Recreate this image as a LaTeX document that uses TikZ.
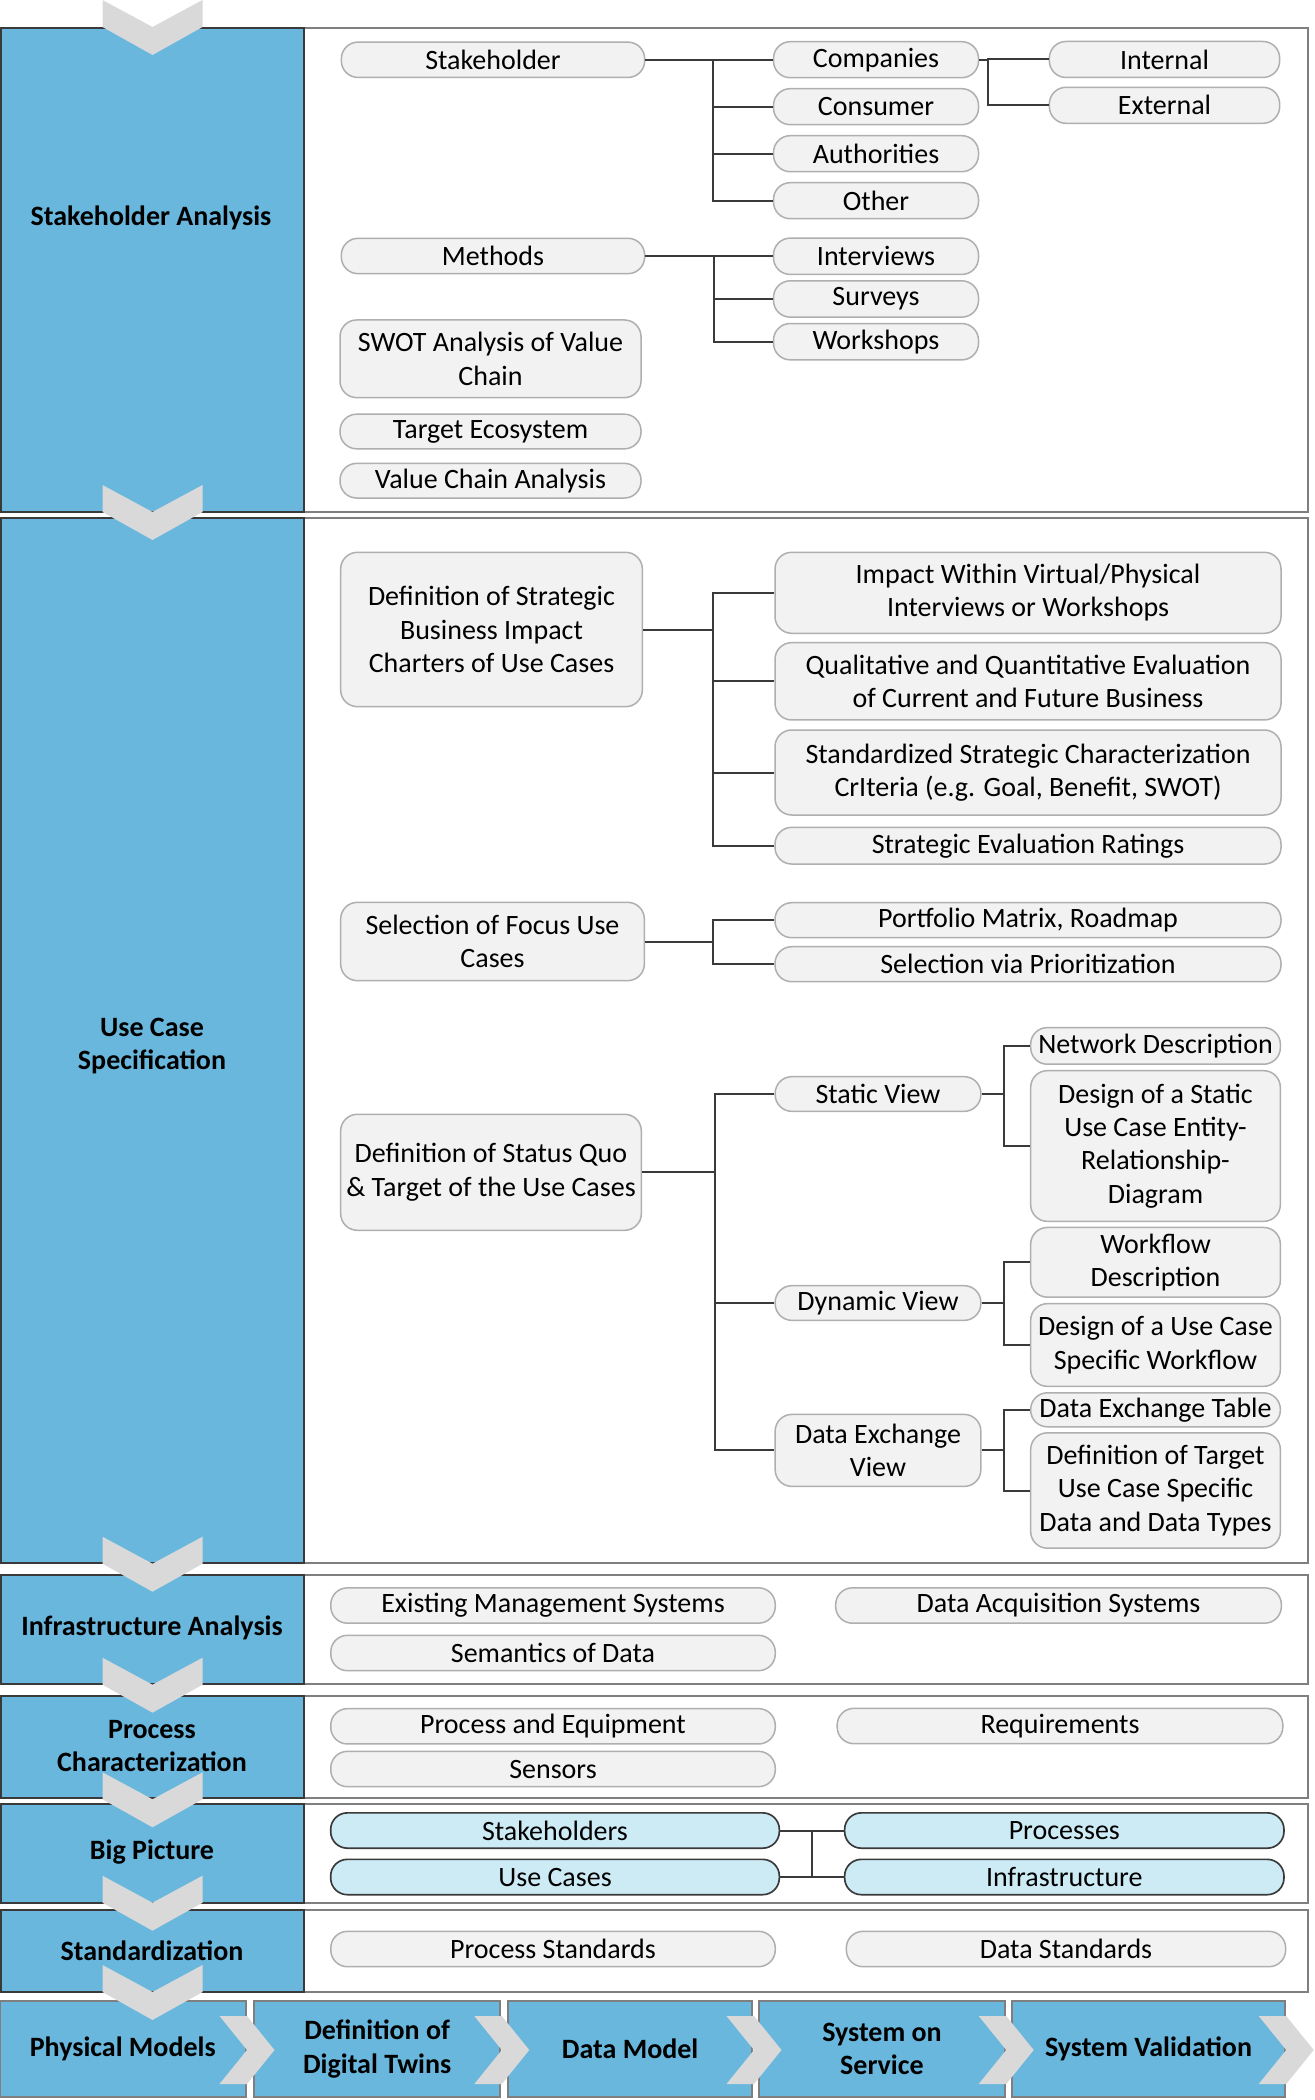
\documentclass[tikz,border=0pt]{standalone}
\usepackage{fontspec}
\setmainfont{Carlito}
\usetikzlibrary{calc}

\definecolor{panelblue}{HTML}{69B7DD}
\definecolor{pillfill}{HTML}{F2F2F2}
\definecolor{pillline}{HTML}{AFAFAF}
\definecolor{bigfill}{HTML}{CDEBF5}
\definecolor{darkline}{HTML}{3A3A3A}
\definecolor{bandline}{HTML}{7F7F7F}
\definecolor{chevgray}{HTML}{D9D9D9}

\begin{document}
\begin{tikzpicture}[x=0.3pt,y=-0.3pt,
    every node/.style={font=\fontsize{8.4pt}{10pt}\selectfont},
    pill/.style={draw=pillline,fill=pillfill,rounded corners=5pt,line width=0.45pt,
                 inner sep=0pt,align=center,minimum height=10.6pt},
    bigpill/.style={pill,draw=darkline,fill=bigfill,line width=0.5pt},
    phase/.style={font=\fontsize{8.4pt}{10pt}\selectfont\bfseries,align=center},
    stage/.style={phase,fill=panelblue,draw=bandline,line width=0.6pt,inner sep=0pt,
                  minimum height=28.9pt},
    band/.style={draw=bandline,fill=white,line width=0.6pt},
    panel/.style={fill=panelblue,draw=darkline,line width=0.5pt},
    conn/.style={draw=darkline,line width=0.6pt},
    chev/.style={fill=chevgray}]
  \useasboundingbox (0,0) rectangle (1314,2100);

  % bands with the blue phase panels
  \foreach \top/\bot in {28/511.7,518.3/1563.3,1575/1684.3,1696/1797.7,1804.3/1902.7,1910/1992.3}{
    \draw[band] (1,\top) rectangle (1307.5,\bot);
    \filldraw[panel] (1,\top) rectangle (304.3,\bot);
  }

  % bottom row of stages
  \node[stage,minimum width=73.65pt] (b1) at (122.75,2048.9) {Physical Models};
  \node[stage,minimum width=73.9pt]  (b2) at (377.15,2048.9) {Definition of\\Digital Twins};
  \node[stage,minimum width=73.4pt]  (b3) at (630.15,2048.9) {Data Model};
  \node[stage,minimum width=73.65pt] (b4) at (881.95,2048.9) {System on\\Service};
  \node[stage,minimum width=81.7pt]  (b5) at (1148.5,2048.9) {System Validation};

  % chevrons
  \foreach \t in {0,485,1536.7,1657.7,1772.3,1875.7,1965}
    \fill[chev] (102.5,\t) -- (152.5,\t+27) -- (202.5,\t) -- (202.5,\t+27)
      -- (152.5,\t+55) -- (102.5,\t+27) -- cycle;
  \foreach \r in {245.5,500.3,752.5,1004.7,1284.7}
    \fill[chev] (\r-26,2016) -- (\r+1.5,2050) -- (\r-26,2084) -- (\r+1.5,2084)
      -- (\r+29,2050) -- (\r+1.5,2016) -- cycle;

  % phase labels
  \node[phase] (sa)  at (151,218)    {Stakeholder Analysis};
  \node[phase] (ucs) at (152,1046)   {Use Case\\Specification};
  \node[phase] (ia)  at (152,1628.3) {Infrastructure Analysis};
  \node[phase] (pc)  at (152,1746)   {Process\\Characterization};
  \node[phase] (bp)  at (152,1851.7) {Big Picture};
  \node[phase] (sd)  at (152,1951)   {Standardization};

  % stakeholder analysis
  \node[pill,minimum width=91pt] (stk)  at (493,59.8) {Stakeholder};
  \node[pill,minimum width=91pt] (meth) at (493,256)  {Methods};
  \node[pill,minimum width=90.3pt,minimum height=23.3pt] (swot) at (490.5,358.8) {SWOT Analysis of Value\\Chain};
  \node[pill,minimum width=90.3pt,minimum height=10.4pt] (eco) at (490.5,431.5) {Target Ecosystem};
  \node[pill,minimum width=90.3pt,minimum height=10.4pt] (vca) at (490.5,480.7) {Value Chain Analysis};
  \node[pill,minimum width=61.5pt,minimum height=10.8pt] (comp) at (876,59.7)  {Companies};
  \node[pill,minimum width=61.5pt,minimum height=10.8pt] (cons) at (876,106.7) {Consumer};
  \node[pill,minimum width=61.5pt,minimum height=10.8pt] (auth) at (876,153.7) {Authorities};
  \node[pill,minimum width=61.5pt,minimum height=10.8pt] (oth)  at (876,200.7) {Other};
  \node[pill,minimum width=69.1pt,minimum height=10.8pt] (int)  at (1164.5,59.5)  {Internal};
  \node[pill,minimum width=69.1pt,minimum height=10.8pt] (ext)  at (1164.5,105.3) {External};
  \node[pill,minimum width=61.5pt,minimum height=10.9pt] (intv) at (876,256.3) {Interviews};
  \node[pill,minimum width=61.5pt,minimum height=10.9pt] (surv) at (876,299)   {Surveys};
  \node[pill,minimum width=61.5pt,minimum height=10.9pt] (work) at (876,341.7) {Workshops};

  \draw[conn] (stk.east) -- ++(67.5,0) coordinate (stkj);
  \foreach \n in {comp,cons,auth,oth} \draw[conn] (stkj) |- (\n.west);
  \draw[conn] (comp.east) -- ++(9,0) coordinate (compj);
  \foreach \n in {int,ext} \draw[conn] (compj) |- (\n.west);
  \draw[conn] (meth.east) -- ++(68.5,0) coordinate (methj);
  \foreach \n in {intv,surv,work} \draw[conn] (methj) |- (\n.west);

  % use case specification
  \node[pill,minimum width=90.5pt,minimum height=46.3pt] (dsb) at (491.5,629.5) {Definition of Strategic\\Business Impact\\Charters of Use Cases};
  \node[pill,minimum width=151.8pt,minimum height=24.3pt] (imp)  at (1028,592.8) {Impact Within Virtual/Physical\\Interviews or Workshops};
  \node[pill,minimum width=151.8pt,minimum height=23.2pt] (qual) at (1028,681.3) {Qualitative and Quantitative Evaluation\\of Current and Future Business};
  \node[pill,minimum width=151.8pt,minimum height=25.5pt] (std)  at (1028,772.5) {Standardized Strategic Characterization\\CrIteria (e.g. Goal, Benefit, SWOT)};
  \node[pill,minimum width=151.8pt,minimum height=11pt]   (ser)  at (1028,845.7) {Strategic Evaluation Ratings};
  \node[pill,minimum width=91.1pt,minimum height=23.5pt]  (sel)  at (492.5,941.5) {Selection of Focus Use\\Cases};
  \node[pill,minimum width=151.8pt,minimum height=10.5pt] (port) at (1028,920.2) {Portfolio Matrix, Roadmap};
  \node[pill,minimum width=151.8pt,minimum height=10.5pt] (svp)  at (1028,964.2) {Selection via Prioritization};
  \node[pill,minimum width=90.2pt,minimum height=34.8pt]  (dsq)  at (491,1172.3) {Definition of Status Quo\\\& Target of the Use Cases};
  \node[pill,minimum width=61.7pt,minimum height=10.4pt]  (stat) at (878,1094)   {Static View};
  \node[pill,minimum width=61.7pt,minimum height=10.4pt]  (dyn)  at (878,1303)   {Dynamic View};
  \node[pill,minimum width=61.7pt,minimum height=21.6pt]  (dex)  at (878,1450.4) {Data Exchange\\View};
  \node[pill,minimum width=74.9pt,minimum height=11pt]    (net)  at (1155.5,1045.9) {Network Description};
  \node[pill,minimum width=74.9pt,minimum height=45.2pt]  (dss)  at (1155.5,1146)   {Design of a Static\\Use Case Entity-\\Relationship-\\Diagram};
  \node[pill,minimum width=74.9pt,minimum height=20.9pt]  (wfd)  at (1155.5,1262.3) {Workflow\\Description};
  \node[pill,minimum width=74.9pt,minimum height=24.8pt]  (duw)  at (1155.5,1345)   {Design of a Use Case\\Specific Workflow};
  \node[pill,minimum width=74.9pt,minimum height=10.2pt]  (det)  at (1155.5,1409.8) {Data Exchange Table};
  \node[pill,minimum width=74.9pt,minimum height=34.6pt]  (dtt)  at (1155.5,1490.5) {Definition of Target\\Use Case Specific\\Data and Data Types};

  \draw[conn] (dsb.east) -- ++(70,0) coordinate (dsbj);
  \foreach \n in {imp,qual,std,ser} \draw[conn] (dsbj) |- (\n.west);
  \draw[conn] (sel.east) -- ++(68,0) coordinate (selj);
  \foreach \n in {port,svp} \draw[conn] (selj) |- (\n.west);
  \draw[conn] (dsq.east) -- ++(72.5,0) coordinate (dsqj);
  \foreach \n in {stat,dyn,dex} \draw[conn] (dsqj) |- (\n.west);
  \draw[conn] (stat.east) -- ++(22,0) coordinate (statj);
  \foreach \n in {net,dss} \draw[conn] (statj) |- (\n.west);
  \draw[conn] (dyn.east) -- ++(22,0) coordinate (dynj);
  \foreach \n in {wfd,duw} \draw[conn] (dynj) |- (\n.west);
  \draw[conn] (dex.east) -- ++(22,0) coordinate (dexj);
  \foreach \n in {det,dtt} \draw[conn] (dexj) |- (\n.west);

  % infrastructure analysis
  \node[pill,minimum width=133.35pt] (ems) at (553,1605.5)    {Existing Management Systems};
  \node[pill,minimum width=133.35pt] (sem) at (553,1653)      {Semantics of Data};
  \node[pill,minimum width=133.7pt]  (das) at (1058.5,1605.5) {Data Acquisition Systems};

  % process characterization
  \node[pill,minimum width=133.35pt] (peq)  at (553,1726.3) {Process and Equipment};
  \node[pill,minimum width=133.35pt] (sens) at (553,1769)   {Sensors};
  \node[pill,minimum width=133.7pt]  (req)  at (1060,1726)  {Requirements};

  % big picture
  \node[bigpill,minimum width=134.6pt] (bstk)  at (555,1830.5)    {Stakeholders};
  \node[bigpill,minimum width=134.6pt] (buc)   at (555,1877)      {Use Cases};
  \node[bigpill,minimum width=131.8pt] (bproc) at (1064.3,1830.5) {Processes};
  \node[bigpill,minimum width=131.8pt] (binf)  at (1064.3,1877)   {Infrastructure};
  \draw[conn] (bstk.east) -- (bproc.west);
  \draw[conn] (buc.east) -- (binf.west);
  \draw[conn] ($(bstk.east)!0.5!(bproc.west)$) -- ($(buc.east)!0.5!(binf.west)$);

  % standardization
  \node[pill,minimum width=133.35pt] (pst) at (553,1949)  {Process Standards};
  \node[pill,minimum width=131.8pt]  (dst) at (1066,1949) {Data Standards};
\end{tikzpicture}
\end{document}
